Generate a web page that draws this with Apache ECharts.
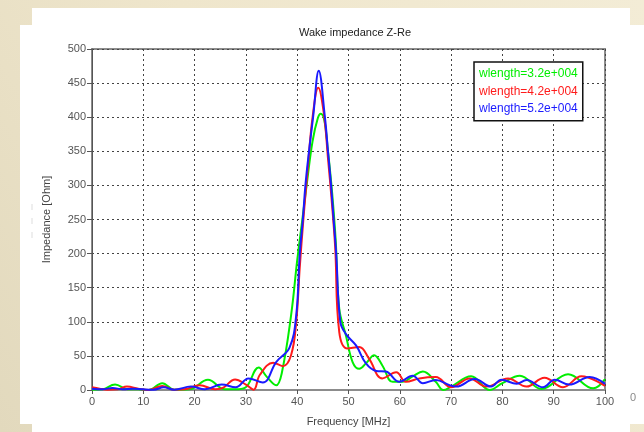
<!DOCTYPE html>
<html>
<head>
<meta charset="utf-8">
<script src="https://cdn.jsdelivr.net/npm/echarts@6/dist/echarts.min.js"></script>
<style>
  html, body { margin: 0; padding: 0; }
  #chart { width: 644px; height: 432px; }
</style>
</head>
<body>
<div id="chart"></div>
<script>
// Real part of the wake impedance for three wake lengths
const seriesNames = ['wlength=3.2e+004', 'wlength=4.2e+004', 'wlength=5.2e+004'];
const seriesColors = ['#00ee00', '#ff1a1a', '#1a1aff'];

// wlength = 3.2e+004
const freqA = [0, 2, 4.5, 7, 9, 11, 13.7, 16, 19, 22.6, 25.9, 28, 29.8, 32.5, 34, 35.9, 37, 38.8, 40, 41, 42, 43, 44, 44.6, 45.3, 46, 46.8, 47.5, 48.2, 49.5, 50.8, 52.1, 53.5, 55, 56.6, 58.6, 60.6, 62.5, 64.5, 67, 68.5, 70, 73.9, 77.5, 80, 83.4, 87.6, 92.8, 97.7, 100];
const valsA = [0.5, 1, 8, 1, 1, 0, 10, 0.5, 1, 15, 1, 1, 3, 33, 20, 7, 25, 109, 190, 250, 310, 365, 398, 405, 395, 350, 290, 220, 119, 80, 41, 31, 40, 51, 36, 12, 12, 20, 27, 12, 0, 5, 20, 0, 10, 21, 1.5, 23, 2.4, 16];

// wlength = 4.2e+004
const freqB = [0, 1.5, 3, 5, 6.8, 9, 11, 13.7, 16, 18, 21, 24, 25.5, 27.9, 30, 31.5, 32.7, 35.3, 37.2, 38.8, 39.8, 40.5, 41.2, 42, 43, 44.1, 45.2, 46, 46.7, 47.4, 48.2, 49.8, 52.1, 54, 56.6, 59.3, 61.2, 63.8, 67, 70, 73.6, 76.9, 81.1, 84.7, 88.2, 91.8, 95.4, 100];
const valsB = [4, 2, 0.5, 1, 5, 2, 0, 6, 0.5, 1, 7, 1, 3, 15.5, 8, 0.5, 22, 40, 35, 51, 99, 180, 250, 320, 400, 443, 405, 340, 280, 210, 85, 61, 63, 46, 17, 26, 12, 17, 19, 4, 17, 5, 17, 5, 18, 4, 20, 6];

// wlength = 5.2e+004
const freqC = [0, 2, 4, 6, 8, 10, 12, 14, 16, 19.3, 22, 25.3, 28, 30.5, 33.3, 35.9, 38.5, 39.8, 40.5, 41.1, 41.6, 42.3, 43.1, 44.2, 45.4, 46, 46.6, 47.1, 47.6, 48.4, 49.5, 51.5, 53.4, 55.4, 57.3, 59.9, 62.5, 64.5, 67, 69.7, 71, 74.6, 77.8, 79.8, 82.8, 84.7, 87.9, 90.2, 93, 97, 100];
const valsC = [2, 1, 3, 1, 2, 1, 0.5, 4, 0.5, 5, 1, 8, 4, 17, 11, 41, 62, 109, 200, 250, 300, 350, 400, 468, 400, 350, 300, 250, 200, 100, 82, 65, 39, 28, 27, 12, 21, 10, 14.5, 7, 5, 16, 5, 15, 9, 14.5, 4, 15, 8, 19, 9];

const xTicks = { min: 0, max: 100, step: 10 };
const yTicks = { min: 0, max: 500, step: 50 };

const pairs = (xs, ys) => xs.map((x, i) => [x, ys[i]]);
const seriesData = [pairs(freqA, valsA), pairs(freqB, valsB), pairs(freqC, valsC)];

const font = '"Liberation Sans", Arial, sans-serif';
const chart = echarts.init(document.getElementById('chart'), null, { renderer: 'canvas' });

chart.setOption({
  animation: false,
  backgroundColor: {
    type: 'linear', x: 0, y: 1, x2: 1, y2: 0,
    colorStops: [{ offset: 0, color: '#e2d9bd' }, { offset: 0.5, color: '#efe6cc' }, { offset: 1, color: '#f3ecd6' }]
  },
  graphic: [
    { type: 'rect', z: -10, shape: { x: 32, y: 8, width: 598, height: 424 }, style: { fill: '#ffffff' } },
    { type: 'rect', z: -10, shape: { x: 20, y: 25, width: 624, height: 399 }, style: { fill: '#ffffff' } },
    { type: 'text', z: 1, left: 630, top: 392, style: { text: '0', fill: '#8a8a8a', font: '11px ' + font } },
    { type: 'line', z: 1, shape: { x1: 32, y1: 204, x2: 32, y2: 246 }, style: { stroke: '#dddddd', lineWidth: 1, lineDash: [6, 8] } }
  ],
  title: {
    text: 'Wake impedance Z-Re',
    left: 350, top: 22, textAlign: 'center',
    textStyle: { fontFamily: font, fontSize: 11, fontWeight: 'normal', color: '#222' }
  },
  legend: {
    orient: 'vertical',
    left: 474, top: 62,
    icon: 'none',
    itemWidth: 0, itemHeight: 14, itemGap: 4.4,
    padding: [5, 5, 6, 0],
    backgroundColor: '#ffffff',
    borderColor: '#111', borderWidth: 1.5, borderRadius: 0,
    selectedMode: false,
    data: seriesNames.map((n, i) => ({ name: n, textStyle: { color: seriesColors[i] } })),
    textStyle: { fontFamily: font, fontSize: 12 }
  },
  grid: {
    left: 92, right: 39, top: 49, bottom: 40,
    show: true, borderColor: '#8c8c8c', borderWidth: 2, backgroundColor: '#fff'
  },
  xAxis: {
    type: 'value', min: xTicks.min, max: xTicks.max, interval: xTicks.step,
    name: 'Frequency [MHz]', nameLocation: 'middle', nameGap: 26,
    nameTextStyle: { fontFamily: font, fontSize: 11, color: '#444' },
    axisLine: { show: true, lineStyle: { color: '#8c8c8c', width: 2 } },
    axisTick: { show: true, length: 4, lineStyle: { color: '#555' } },
    axisLabel: { fontFamily: font, fontSize: 11, color: '#555', margin: 6 },
    splitLine: { show: true, lineStyle: { color: '#444', type: [2, 3], width: 1 } }
  },
  yAxis: {
    type: 'value', min: yTicks.min, max: yTicks.max, interval: yTicks.step,
    name: 'Impedance [Ohm]', nameLocation: 'middle', nameGap: 40,
    nameTextStyle: { fontFamily: font, fontSize: 11, color: '#444' },
    axisLine: { show: true, lineStyle: { color: '#555', width: 1 } },
    axisTick: { show: true, length: 5, lineStyle: { color: '#555' } },
    axisLabel: { fontFamily: font, fontSize: 11, color: '#555', margin: 6 },
    splitLine: { show: true, lineStyle: { color: '#444', type: [2, 3], width: 1 } }
  },
  series: seriesNames.map((n, i) => ({
    name: n,
    type: 'line',
    data: seriesData[i],
    smooth: 0.4,
    showSymbol: false,
    symbol: 'none',
    lineStyle: { color: seriesColors[i], width: 2 },
    itemStyle: { color: seriesColors[i] },
    z: 3 + i
  }))
});
</script>
</body>
</html>
